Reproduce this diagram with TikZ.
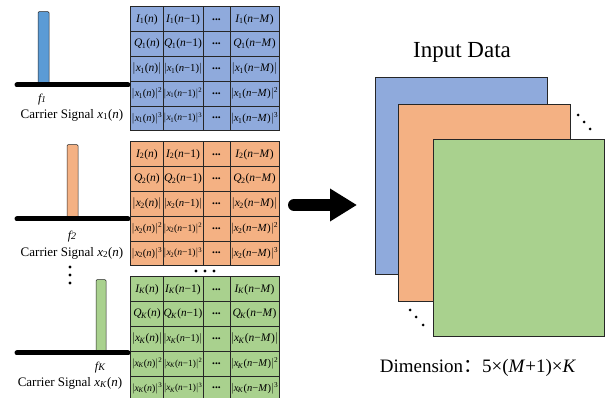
\documentclass[tikz,border=0pt]{standalone}
\usepackage{fontspec}
\usepackage{graphicx}
\setmainfont{Liberation Serif}
\newfontfamily\cjkfont{Noto Sans CJK SC}
\usetikzlibrary{arrows.meta}

\definecolor{blueFill}{HTML}{8FAADC}
\definecolor{orangeFill}{HTML}{F4B183}
\definecolor{greenFill}{HTML}{A9D18E}
\definecolor{blueBar}{HTML}{5B9BD5}
\definecolor{gridLine}{HTML}{262626}

% delayed argument of a sample: column 1 -> (n), 2 -> (n-1), 4 -> (n-M)
\newcommand\lagarg[1]{\ifcase#1\or(\textit{n})\or(\textit{n}−1)\or\or(\textit{n}−\textit{M})\fi}
\newcommand\absv[1]{\ensuremath{\left|\hbox{#1}\right|}}
\newcommand\chsub[1]{\textsubscript{\kern-0.6pt#1}}
% text of one cell: row, column, channel subscript
\newcommand\cellbody[3]{%
  \ifnum#2=3 \textbf{...}\else
  \ifcase#1\or
    \textit{I}\chsub{#3}\lagarg{#2}\or
    \textit{Q}\chsub{#3}\lagarg{#2}\or
    \absv{\textit{x}\chsub{#3}\lagarg{#2}}\or
    \absv{\textit{x}\chsub{#3}\lagarg{#2}}\textsuperscript{2}\or
    \absv{\textit{x}\chsub{#3}\lagarg{#2}}\textsuperscript{3}\fi\fi}
% shrink a cell text only when it is wider than its column
\newsavebox\cellbox
\newlength\cellmax
\newcommand\fitcell[2]{%
  \setlength\cellmax{#1pt}\addtolength\cellmax{-1.5pt}%
  \sbox\cellbox{#2}%
  \ifdim\wd\cellbox>\cellmax\resizebox{\cellmax}{!}{\usebox\cellbox}\else\usebox\cellbox\fi}
% one 5x4 feature table: name, top edge, subscript, fill colour
\newcommand\datatable[4]{%
  \foreach \c/\xa/\xb in {1/131/163,2/163/203,3/203/230,4/230/279}{%
    \foreach \r in {1,...,5}{%
      \pgfmathsetmacro\cw{\xb-\xa}%
      \pgfmathsetmacro\cx{(\xa+\xb)/2}%
      \pgfmathsetmacro\cy{#2+(\r-0.5)*24.7}%
      \node[cell, fill=#4, minimum width=\cw pt] (#1-\r-\c) at (\cx,\cy) {\fitcell{\cw}{\cellbody{\r}{\c}{#3}}};
    }}
  \foreach \c in {1,...,4}{\draw[gridrule] (#1-1-\c.north east) -- (#1-5-\c.south east);}
  \foreach \r in {1,...,5}{\draw[gridrule] (#1-\r-1.south west) -- (#1-\r-4.south east);}
  \draw[gridrule] (#1-1-1.north west) rectangle (#1-5-4.south east);
}

\begin{document}
\begin{tikzpicture}[x=1pt,y=-1pt,
  cell/.style={inner sep=0pt, minimum height=24.7pt, font=\fontsize{11.5}{13}\selectfont},
  gridrule/.style={draw=gridLine, line width=0.9pt},
  bar/.style={draw=gridLine, line width=0.5pt, rounded corners=1pt, anchor=south, inner sep=0pt},
  baseline/.style={line width=5pt, line cap=round},
  freq/.style={font=\fontsize{12}{14}\selectfont\itshape},
  carrier/.style={font=\fontsize{13}{15}\selectfont},
  layer/.style={draw=gridLine, line width=1pt, inner sep=0pt, minimum width=172pt, minimum height=197pt, anchor=north west},
  dot/.style={fill=black}]
\useasboundingbox (0,0) rectangle (614,398);

% feature tables of the three channels
\datatable{tA}{7}{1}{blueFill}
\datatable{tB}{142}{2}{orangeFill}
\datatable{tC}{277}{\textit{K}}{greenFill}

% spectral lines of the carriers
\node[bar, fill=blueBar, minimum width=11pt, minimum height=73pt] (bar1) at (43.5,85) {};
\node[bar, fill=orangeFill, minimum width=11pt, minimum height=74pt] (bar2) at (72.5,219) {};
\node[bar, fill=greenFill, minimum width=10pt, minimum height=73pt] (bar3) at (101,353) {};
\coordinate (b1w) at (17,85);  \coordinate (b1e) at (128,85);
\coordinate (b2w) at (17,219); \coordinate (b2e) at (128,219);
\coordinate (b3w) at (17,353); \coordinate (b3e) at (128,353);
\draw[baseline] (b1w) -- (b1e);
\draw[baseline] (b2w) -- (b2e);
\draw[baseline] (b3w) -- (b3e);

\node[freq] (f1) at (42,100) {f{\fontsize{9}{9}\selectfont 1}};
\node[freq] (f2) at (72,237) {f{\fontsize{10}{10}\selectfont 2}};
\node[freq] (fK) at (100,368) {f{\fontsize{10}{10}\selectfont K}};
\node[carrier] (cs1) at (72,115) {Carrier Signal \textit{x}\textsubscript{1}(\textit{n})};
\node[carrier] (cs2) at (72,253) {Carrier Signal \textit{x}\textsubscript{2}(\textit{n})};
\node[carrier] (csK) at (70,383) {Carrier Signal \textit{x}\textsubscript{\textit{K}}(\textit{n})};

% vertical ellipsis between channels
\foreach \y in {267,275,283}{\fill[dot] (70,\y) circle (1.6);}
% horizontal ellipsis between tables
\foreach \x in {196,205,214}{\fill[dot] (\x,271) circle (1.6);}

% arrow to the stacked input tensor
\coordinate (arrS) at (294,205);
\coordinate (arrE) at (357,205);
\draw[line width=12pt, line cap=round, -{Triangle[length=27pt,width=31pt]}] (arrS) -- (arrE);

% stacked layers
\node[layer, fill=blueFill] (layA) at (375,77) {};
\node[layer, fill=orangeFill] (layB) at (398,104) {};
\node[layer, fill=greenFill, minimum width=171pt] (layC) at (433,139) {};
\foreach \x/\y in {578/115,584/122,590/129,410/310,416/317,423/325}{\fill[dot] (\x,\y) circle (1.5);}

\node[font=\fontsize{23}{26}\selectfont] (title) at (462,52) {Input Data};
\node[font=\fontsize{19}{22}\selectfont] (dim) at (478,368)
  {Dimension{\cjkfont ：}5×(\textit{M}+1)×\textit{K}};
\end{tikzpicture}
\end{document}
